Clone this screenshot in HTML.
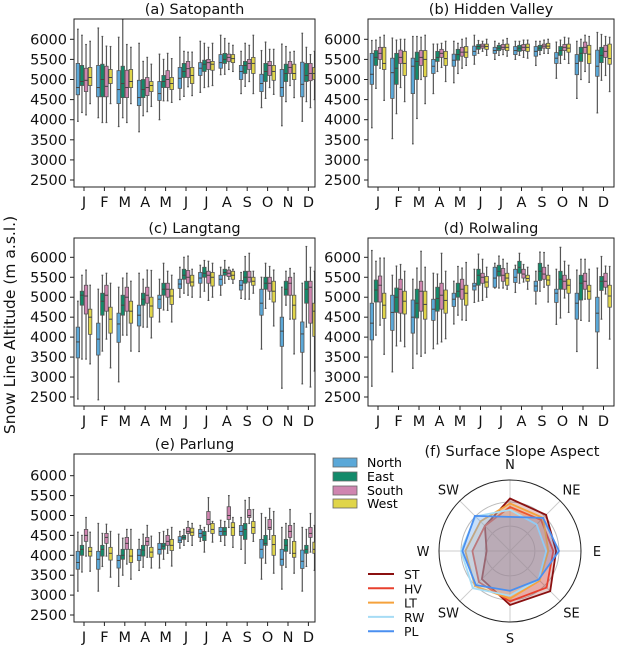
<!DOCTYPE html>
<html><head><meta charset="utf-8">
<style>
html,body{margin:0;padding:0;background:#fff;}
svg{display:block;font-family:"DejaVu Sans","Liberation Sans",sans-serif;}
</style></head>
<body>
<svg id="chart" width="620" height="645" viewBox="0 0 620 645" xmlns="http://www.w3.org/2000/svg">
<text x="0" y="0" transform="translate(15,325) rotate(-90)" text-anchor="middle" font-size="15.5" fill="#111">Snow Line Altitude (m a.s.l.)</text>
<g id="panels"></g>
<g id="legend-aspect">
<rect x="333" y="458" width="24" height="9" fill="#5ba8d8" stroke="#666" stroke-width="0.8"/>
<text x="367" y="467" font-size="12.5">North</text>
<rect x="333" y="472" width="24" height="9" fill="#138a6a" stroke="#666" stroke-width="0.8"/>
<text x="367" y="481" font-size="12.5">East</text>
<rect x="333" y="486" width="24" height="9" fill="#cf85b0" stroke="#666" stroke-width="0.8"/>
<text x="367" y="495" font-size="12.5">South</text>
<rect x="333" y="499" width="24" height="9" fill="#e0d54a" stroke="#666" stroke-width="0.8"/>
<text x="367" y="508" font-size="12.5">West</text>
</g>
<g id="radar"></g>
</svg>
<script>
const months = ["J","F","M","A","M","J","J","A","S","O","N","D"];
const yTicks = [2500,3000,3500,4000,4500,5000,5500,6000];

const satN = [[3960,4620,4800,5400,6250],[4050,4570,4800,5350,6280],[3830,4400,4750,5220,6050],[3700,4350,4550,4980,5900],[4000,4480,4650,4950,5630],[4500,4780,5030,5300,6050],[4680,5100,5280,5420,5950],[5120,5280,5420,5620,6100],[4650,5000,5200,5350,5700],[4300,4700,4900,5130,5720],[3850,4580,4800,5250,5880],[3960,4570,4880,5430,6150]];
const satE = [[4180,4850,4950,5350,6100],[3930,4570,5000,5380,6070],[4050,4550,4900,5330,6500],[4100,4550,4750,5000,5450],[4470,4800,4950,5100,5500],[4580,5050,5200,5400,5700],[4800,5200,5380,5480,5900],[5130,5400,5500,5650,6020],[4830,5150,5350,5450,5900],[4530,4950,5200,5400,5930],[4450,4950,5150,5380,5820],[4450,4950,5100,5400,5800]];
const satS = [[4120,4700,4980,5280,5870],[3930,4570,4830,5330,5830],[3930,4550,4800,5230,5870],[4200,4600,4800,5050,5550],[4470,4800,5000,5220,5650],[4820,5050,5270,5450,5680],[4820,5250,5420,5500,5800],[5250,5450,5550,5630,5900],[4950,5250,5400,5500,5850],[4800,5100,5350,5450,5750],[4850,5150,5300,5450,5680],[4300,4970,5150,5400,5620]];
const satW = [[4400,4850,5050,5300,5950],[4400,4900,5050,5250,5820],[4400,4800,4950,5250,5800],[4330,4700,4850,4950,5380],[4430,4750,4900,5050,5520],[4600,4900,5100,5300,5680],[4850,5230,5380,5450,5900],[5200,5420,5520,5620,5850],[4650,5150,5400,5550,6100],[4630,4980,5200,5350,5750],[4550,5000,5150,5380,5700],[4500,5000,5150,5300,5700]];

const hvN = [[3800,4880,5130,5650,5970],[3530,4530,5170,5530,6030],[3400,4650,5330,5530,6070],[4650,5150,5330,5500,5880],[4920,5330,5480,5630,5950],[5380,5600,5700,5830,6100],[5500,5650,5720,5800,5950],[5500,5620,5720,5820,5950],[5350,5580,5700,5820,5950],[5030,5400,5530,5670,5930],[4530,5120,5400,5620,5950],[4170,5080,5330,5730,6170]];
const hvE = [[4780,5350,5550,5720,5980],[4150,4880,5280,5650,5980],[4030,5000,5450,5680,6070],[5200,5450,5550,5700,5880],[5150,5480,5620,5750,5900],[5650,5750,5820,5870,5970],[5600,5720,5780,5850,5900],[5600,5700,5780,5850,5950],[5620,5720,5780,5850,5950],[5400,5600,5720,5820,5980],[5000,5450,5650,5800,6000],[4980,5420,5600,5800,6120]];
const hvS = [[5280,5500,5650,5800,6050],[4800,5400,5550,5730,6000],[5000,5350,5550,5720,6050],[5300,5550,5650,5750,5900],[5280,5580,5680,5800,6000],[5700,5780,5830,5880,5950],[5620,5750,5800,5870,5980],[5550,5720,5800,5870,5980],[5650,5780,5830,5880,5980],[5500,5720,5800,5870,6050],[5200,5650,5800,5930,6100],[5100,5550,5700,5850,6070]];
const hvW = [[4480,5250,5400,5800,6100],[4450,5100,5400,5700,6000],[4400,5070,5500,5720,6100],[4950,5350,5520,5700,5950],[5350,5550,5680,5820,6030],[5600,5750,5820,5880,6000],[5580,5720,5800,5880,6020],[5530,5700,5800,5880,5980],[5650,5770,5830,5900,6000],[5400,5680,5780,5880,6030],[4930,5400,5630,5850,6070],[4700,5380,5520,5880,6050]];

const ltN = [[2450,3480,3880,4250,4900],[2430,3550,3950,4350,5200],[2880,3870,4330,4600,5250],[3640,4280,4550,4800,5600],[4380,4720,4950,5050,5450],[5000,5220,5330,5450,5750],[5000,5350,5480,5620,5800],[5050,5300,5450,5550,5750],[4970,5180,5300,5420,5620],[3700,4550,4850,5200,5500],[2720,3770,4150,4500,5250],[2830,3620,4080,4380,5350]];
const ltE = [[3450,4800,5050,5150,5550],[3650,4550,4900,5100,5550],[4050,4550,4800,5050,5480],[4250,4800,4950,5100,5450],[4680,5050,5200,5350,5850],[5100,5450,5550,5700,6000],[5150,5500,5600,5750,5920],[5350,5550,5620,5700,5920],[4950,5350,5500,5650,6020],[4720,5200,5350,5500,5850],[4800,5050,5200,5400,5650],[4250,4850,5200,5400,6270]];
const ltS = [[3450,4580,5030,5300,5680],[3950,4650,5050,5300,5600],[4050,4650,5000,5250,5600],[4250,4850,5050,5250,5680],[4670,5000,5200,5350,5650],[5050,5350,5500,5670,6030],[4920,5350,5550,5650,5900],[5450,5520,5600,5680,5750],[4950,5380,5500,5650,6100],[4950,5150,5350,5500,5770],[4450,5050,5350,5500,5720],[2750,4350,5250,5400,5750]];
const ltW = [[3330,4070,4500,4700,5300],[3230,4100,4450,4750,5350],[3650,4350,4650,4900,5400],[3980,4500,4780,5000,5670],[4380,4820,5030,5200,5550],[5000,5280,5380,5550,5700],[5000,5280,5500,5620,5850],[5350,5450,5550,5650,5700],[5100,5300,5400,5500,5650],[4280,4880,5150,5400,5680],[3580,4450,4800,5050,5600],[3150,4020,4650,4850,5650]];

const rwN = [[2770,3930,4350,4850,6170],[3130,4170,4620,5050,5550],[3220,4100,4500,4930,5450],[3710,4420,4700,4950,5600],[4330,4770,4950,5100,5400],[4870,5180,5280,5350,5700],[5230,5250,5480,5750,5850],[5120,5370,5500,5700,5800],[4830,5150,5280,5400,5650],[4320,4870,5100,5200,5700],[3640,4450,4850,5100,5680],[3220,4130,4600,5000,5730]];
const rwE = [[4050,4880,5180,5430,5900],[3780,4620,5000,5230,5780],[3580,4480,4850,5200,5730],[3830,4650,4970,5250,5580],[4550,5000,5150,5350,5770],[4900,5300,5550,5700,6080],[5230,5530,5650,5800,6030],[5350,5600,5750,5900,6100],[5150,5420,5650,5850,6130],[4480,5200,5450,5650,6250],[4420,4930,5350,5550,5950],[4450,5170,5400,5520,6020]];
const rwS = [[4300,4880,5300,5530,5980],[3900,4600,5200,5450,5820],[3520,4650,5150,5400,6150],[3880,4700,5050,5350,6100],[4430,4950,5200,5450,5730],[4920,5350,5500,5600,5950],[5230,5400,5550,5720,5950],[5380,5480,5580,5700,5820],[5250,5450,5580,5750,6120],[4980,5200,5400,5550,5900],[4950,5200,5400,5600,5950],[5080,5250,5400,5600,5780]];
const rwW = [[3570,4470,4800,5100,5980],[3760,4580,4900,5150,5650],[3600,4450,4820,5150,5750],[3960,4600,4920,5180,5650],[4420,4800,5100,5300,5870],[5000,5250,5380,5520,5750],[5200,5300,5480,5600,5850],[5200,5400,5470,5550,5750],[4880,5300,5430,5550,5800],[4620,5100,5300,5450,5800],[4400,4950,5150,5300,5700],[3950,4750,5030,5300,5770]];

const plN = [[3100,3650,3820,4100,4580],[3100,3650,3900,4100,4800],[3220,3680,3870,4000,4530],[3620,3870,4000,4150,4400],[3680,4030,4150,4300,4570],[4180,4320,4380,4470,4600],[4350,4450,4550,4650,4750],[4350,4500,4600,4700,4880],[4150,4500,4600,4750,4950],[3400,3930,4150,4400,5050],[3150,3750,3900,4150,4700],[3100,3670,3850,4130,4700]];
const plE = [[3580,4000,4150,4250,4500],[3720,3980,4150,4250,4550],[3500,3900,4000,4150,4430],[3700,3980,4130,4250,4530],[3900,4150,4230,4300,4600],[4250,4400,4450,4500,4650],[4080,4370,4500,4600,4700],[4250,4500,4600,4700,4850],[3800,4400,4650,4800,5380],[3800,4250,4300,4500,4950],[3700,4100,4250,4400,4800],[3720,4050,4150,4250,4650]];
const plS = [[3980,4350,4500,4650,4950],[3980,4300,4450,4550,4780],[3780,4150,4300,4450,4650],[3950,4250,4350,4450,4750],[4050,4250,4350,4500,4650],[4350,4550,4600,4700,4850],[4600,4770,4900,5100,5450],[4700,4900,5000,5220,5500],[4800,4950,5000,5150,5450],[4400,4650,4700,4900,5180],[4050,4450,4600,4750,5150],[4080,4450,4550,4700,5050]];
const plW = [[3600,3980,4100,4200,4580],[3450,3880,4050,4200,4600],[3400,3820,3980,4150,4650],[3680,3950,4080,4200,4480],[3730,4120,4250,4400,4700],[4250,4500,4580,4680,4800],[4330,4550,4650,4800,4850],[4200,4500,4700,4820,4950],[4350,4550,4700,4850,5150],[3550,4000,4270,4500,5100],[3550,3950,4050,4350,4800],[3620,4050,4150,4330,4750]];

const dirLabels = ["N","NE","E","SE","S","SW","W","SW"];
const radST = [0.74,0.72,0.65,0.80,0.76,0.56,0.33,0.50];
const radHV = [0.62,0.62,0.61,0.73,0.71,0.62,0.53,0.50];
const radLT = [0.67,0.66,0.54,0.59,0.67,0.70,0.63,0.59];
const radRW = [0.58,0.53,0.51,0.57,0.63,0.74,0.69,0.69];
const radPL = [0.48,0.66,0.69,0.57,0.56,0.68,0.67,0.70];

const NS = "http://www.w3.org/2000/svg";
function mk(tag, attrs, parent){
  const e = document.createElementNS(NS, tag);
  for (const k in attrs) e.setAttribute(k, attrs[k]);
  parent.appendChild(e);
  return e;
}
const aspectColors = ["#5ba8d8","#138a6a","#cf85b0","#e0d54a"];
const aspectNames = ["north","east","south","west"];

const panels = [
  {id:"satopanth", title:"(a) Satopanth", x0:74, x1:315, top:19, bot:187, y6:39.3, y25:180, mx0:84, step:20.4, data:[satN,satE,satS,satW]},
  {id:"hidden-valley", title:"(b) Hidden Valley", x0:368, x1:614, top:19, bot:187, y6:39.3, y25:180, mx0:378, step:20.5, data:[hvN,hvE,hvS,hvW]},
  {id:"langtang", title:"(c) Langtang", x0:74, x1:315, top:238, bot:406, y6:257.3, y25:397, mx0:84, step:20.4, data:[ltN,ltE,ltS,ltW]},
  {id:"rolwaling", title:"(d) Rolwaling", x0:368, x1:614, top:238, bot:406, y6:257.3, y25:397, mx0:378, step:20.5, data:[rwN,rwE,rwS,rwW]},
  {id:"parlung", title:"(e) Parlung", x0:74, x1:315, top:454, bot:622, y6:475.7, y25:615, mx0:84, step:20.4, data:[plN,plE,plS,plW]}
];

const root = document.getElementById("panels");
panels.forEach(p => {
  const g = mk("g", {}, root);
  
  
  const yS = v => p.y25 + (v - 2500) * (p.y6 - p.y25) / 3500;
  const xS = i => p.mx0 + i * p.step;
  const cid = "clip-" + p.id;
  const cp = mk("clipPath", {id: cid}, g);
  mk("rect", {x:p.x0, y:p.top, width:p.x1-p.x0, height:p.bot-p.top}, cp);
  const marks = mk("g", {"clip-path":"url(#"+cid+")"}, g);
  const bw = p.step * 0.2 * 0.85;
  p.data.forEach((series, a) => {
    series.forEach((d, i) => {
      const cx = xS(i) + (a - 1.5) * p.step * 0.2;
      const bg = mk("g", {}, marks);
      
      
      mk("line", {x1:cx, x2:cx, y1:yS(d[0]), y2:yS(d[1]), stroke:"#555", "stroke-width":1.2}, bg);
      mk("line", {x1:cx, x2:cx, y1:yS(d[3]), y2:yS(d[4]), stroke:"#555", "stroke-width":1.2}, bg);
      mk("line", {x1:cx-bw/4, x2:cx+bw/4, y1:yS(d[0]), y2:yS(d[0]), stroke:"#555", "stroke-width":1.2}, bg);
      mk("line", {x1:cx-bw/4, x2:cx+bw/4, y1:yS(d[4]), y2:yS(d[4]), stroke:"#555", "stroke-width":1.2}, bg);
      mk("rect", {x:cx-bw/2, y:yS(d[3]), width:bw, height:Math.max(0.5, yS(d[1])-yS(d[3])), fill:aspectColors[a], stroke:"#555", "stroke-width":0.8}, bg);
      mk("line", {x1:cx-bw/2, x2:cx+bw/2, y1:yS(d[2]), y2:yS(d[2]), stroke:"#444", "stroke-width":1}, bg);
    });
  });
  const fr = mk("rect", {x:p.x0, y:p.top, width:p.x1-p.x0, height:p.bot-p.top, fill:"none", stroke:"#222", "stroke-width":1}, g);
  
  
  yTicks.forEach(t => {
    const y = yS(t);
    mk("line", {x1:p.x0-4, x2:p.x0, y1:y, y2:y, stroke:"#222", "stroke-width":1}, g);
    const tx = mk("text", {x:p.x0-7, y:y+5, "text-anchor":"end", "font-size":14.5, fill:"#111"}, g);
    
    
    tx.textContent = t;
  });
  months.forEach((m, i) => {
    const x = xS(i);
    mk("line", {x1:x, x2:x, y1:p.bot, y2:p.bot+4, stroke:"#222", "stroke-width":1}, g);
    const tx = mk("text", {x:x, y:p.bot+20, "text-anchor":"middle", "font-size":14.5, fill:"#111"}, g);
    
    
    tx.textContent = m;
  });
  const tt = mk("text", {x:(p.x0+p.x1)/2, y:p.top-5, "text-anchor":"middle", "font-size":14.5, fill:"#111"}, g);
  
  
  tt.textContent = p.title;
});

const rg = document.getElementById("radar");


const rcx = 510, rcy = 551, R = 71;
const ang = k => -Math.PI/2 + k * Math.PI/4;
[0.35, 0.69].forEach(f => mk("circle", {cx:rcx, cy:rcy, r:R*f, fill:"none", stroke:"#bbb", "stroke-width":1}, rg));
for (let k=0;k<8;k++) mk("line", {x1:rcx, y1:rcy, x2:rcx+R*Math.cos(ang(k)), y2:rcy+R*Math.sin(ang(k)), stroke:"#ccc", "stroke-width":1}, rg);
const series = [["st",radST,"#8b1010"],["hv",radHV,"#e8402e"],["lt",radLT,"#f5a23c"],["rw",radRW,"#a6dcf5"],["pl",radPL,"#4a8ff0"]];
series.forEach(s => {
  const pts = s[1].map((v,k) => (rcx + R*v*Math.cos(ang(k))).toFixed(1) + "," + (rcy + R*v*Math.sin(ang(k))).toFixed(1)).join(" ");
  const poly = mk("polygon", {points:pts, fill:s[2], "fill-opacity":0.22, stroke:s[2], "stroke-width":1.8}, rg);
  
  
});
mk("circle", {cx:rcx, cy:rcy, r:R, fill:"none", stroke:"#222", "stroke-width":1}, rg);
dirLabels.forEach((l,k) => {
  const lr = R + 16;
  const t = mk("text", {x:rcx + lr*Math.cos(ang(k)), y:rcy + lr*Math.sin(ang(k)) + 5, "text-anchor":"middle", "font-size":13, fill:"#111"}, rg);
  
  
  t.textContent = l;
});
const rt = mk("text", {x:512, y:456, "text-anchor":"middle", "font-size":14.5, fill:"#111"}, rg);


rt.textContent = "(f) Surface Slope Aspect";
const legNames = ["ST","HV","LT","RW","PL"];
series.forEach((s,i) => {
  const y = 574 + i*14.3;
  const ln = mk("line", {x1:368, x2:394, y1:y, y2:y, stroke:s[2], "stroke-width":2}, rg);
  
  
  const t = mk("text", {x:404, y:y+5, "font-size":12.5, fill:"#111"}, rg);
  
  
  t.textContent = legNames[i];
});
</script>
</body></html>
